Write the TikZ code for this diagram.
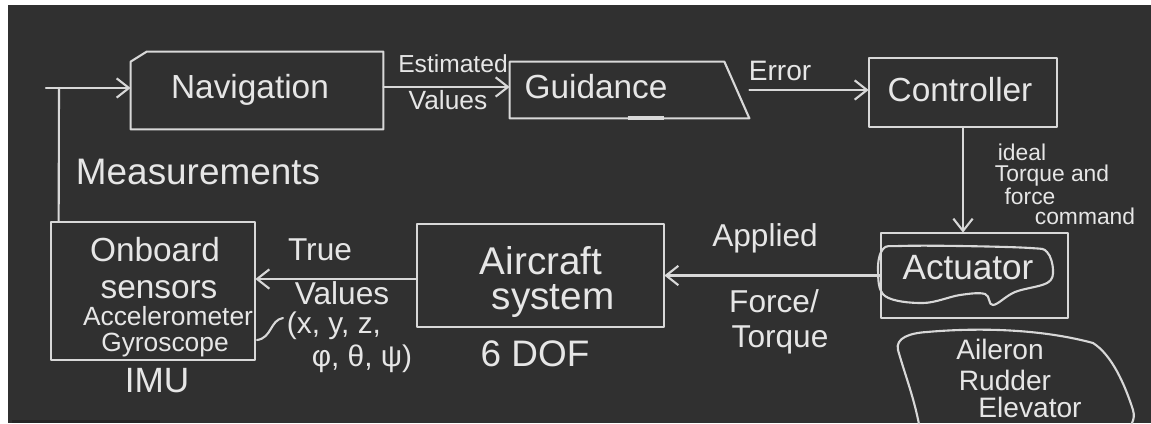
\documentclass[tikz,border=0pt]{standalone}
\usepackage{fontspec}
\setmainfont{Liberation Sans}
\usetikzlibrary{arrows.meta,calc,fit}
\definecolor{board}{HTML}{303030}
\definecolor{chalk}{HTML}{D8D8D8}
\definecolor{chalktext}{HTML}{E6E6E6}
\tikzset{
  box/.style={inner sep=0pt, draw=none},
  stroke/.style={draw=chalk, line width=1.2pt, line join=round, line cap=round},
  arr/.style={stroke, -{Straight Barb[length=7pt,width=11pt,line width=1.2pt]}},
  txt/.style={text=chalktext, inner sep=0pt, font=\fontsize{#1}{#1}\selectfont},
  txt/.default=19
}
\begin{document}
\begin{tikzpicture}[x=0.02cm, y=-0.02cm]
\useasboundingbox (0,0) rectangle (1151,423);
% board
\fill[white] (0,0) rectangle (1151,423);
\fill[board] (8,5) rectangle (1151,423);
\fill[black!85] (12,420) rectangle (160,423);
\begin{scope}
\clip (8,5) rectangle (1151,423);
% boxes
\node[box, fit={(131,52)(383,129)}] (nav) {};
\node[box, fit={(510,62)(749,118)}] (gui) {};
\node[box, fit={(869,58)(1057,127)}] (ctl) {};
\node[box, fit={(881,233)(1068,318)}] (act) {};
\node[box, fit={(417,224)(664,327)}] (air) {};
\node[box, fit={(51,222)(255,360)}] (onb) {};
\draw[stroke] ($(nav.north west)+(0,10)$) -- ($(nav.north west)+(16,0)$) -- (nav.north east) -- (nav.south east) -- (nav.south west) -- cycle;
\draw[stroke] (gui.north west) -- ($(gui.north east)+(-25,0)$) -- (gui.south east) -- (gui.south west) -- cycle;
\draw[chalk, line width=2.2pt] ($(gui.south west)+(118,0)$) -- ($(gui.south west)+(154,0)$);
\draw[stroke] (ctl.north west) rectangle (ctl.south east);
\draw[stroke] (act.north west) rectangle (act.south east);
\draw[stroke] (air.north west) rectangle (air.south east);
\draw[stroke] (onb.north west) rectangle (onb.south east);
% box texts
\node[txt] (navt) at (250,90) {Navigation};
\node[txt] (guit) at (596,87) {Guidance};
\node[txt] (ctlt) at (960,90) {Controller};
\node[txt=20] (actt) at (968,268) {Actuator};
\node[txt=22] (airt1) at (541,261) {Aircraft};
\node[txt=22] (airt2) at (553,301) {system};
\node[txt=19] (onbt1) at (155,250) {Onboard};
\node[txt=19] (onbt2) at (159,290) {sensors};
\node[txt=15] (onbt3) at (168,316) {Accelerometer};
\node[txt=15] (onbt4) at (165,345) {Gyroscope};
\node[txt=20] (imu) at (157,381) {IMU};
% free-hand blobs
\draw[stroke] plot[smooth cycle, tension=0.6] coordinates {(878,270) (883,249) (900,246) (960,246) (1030,248) (1047,252) (1053,270) (1047,283) (1015,292) (993,305) (985,294) (960,295) (923,303) (885,296)};
\draw[stroke] (920,430) .. controls (915,400) and (905,375) .. (898,350)
  .. controls (895,338) and (910,333) .. (927,332)
  .. controls (960,329) and (1030,326) .. (1093,343)
  .. controls (1112,355) and (1125,385) .. (1133,410)
  .. controls (1136,420) and (1130,428) .. (1124,432);
\node[txt=16] (ail1) at (1000,349) {Aileron};
\node[txt=16] (ail2) at (1005,380) {Rudder};
\node[txt=16] (ail3) at (1030,407) {Elevator};
% connectors
\coordinate (fbtop) at (59,88);
\coordinate (fbstart) at (46,88);
\draw[stroke] ($(onb.north west)+(8,0)$) -- (fbtop);
\draw[arr] (fbstart) -- (fbstart -| nav.west);
\draw[arr] ([yshift=2pt]nav.east) -- ([yshift=2pt]nav.east -| gui.west);
\draw[arr] (gui.east) -- (gui.east -| ctl.west);
\draw[arr] (ctl.south) -- (ctl.south |- act.north);
\draw[arr] (act.west) -- (act.west -| air.east);
\draw[arr] ([yshift=-2pt]air.west) -- ([yshift=-2pt]air.west -| onb.east);
% small brace stroke
\draw[stroke] (283,318) .. controls (270,320) and (272,338) .. (257,340);
% labels
\node[txt=21] (meas) at (198,172) {Measurements};
\node[txt=14] (est) at (453,64) {Estimated};
\node[txt=15] (val1) at (448,100) {Values};
\node[txt=16] (err) at (780,71) {Error};
\node[txt=13] (id1) at (1022,152) {ideal};
\node[txt=13] (id2) at (1052,176) {Torque and};
\node[txt=13] (id3) at (1030,196) {force};
\node[txt=13] (id4) at (1085,216) {command};
\node[txt=18] (app) at (765,238) {Applied};
\node[txt=18] (frc) at (774,301) {Force/};
\node[txt=18] (trq) at (780,340) {Torque};
\node[txt=18] (tru) at (320,250) {True};
\node[txt=18] (val2) at (342,293) {Values};
\node[txt=17] (xyz) at (334,326) {(x, y, z,};
\node[txt=17] (ang) at (362,359) {φ, θ, ψ)};
\node[txt=21] (dof) at (535,354) {6 DOF};
\end{scope}
\end{tikzpicture}
\end{document}
